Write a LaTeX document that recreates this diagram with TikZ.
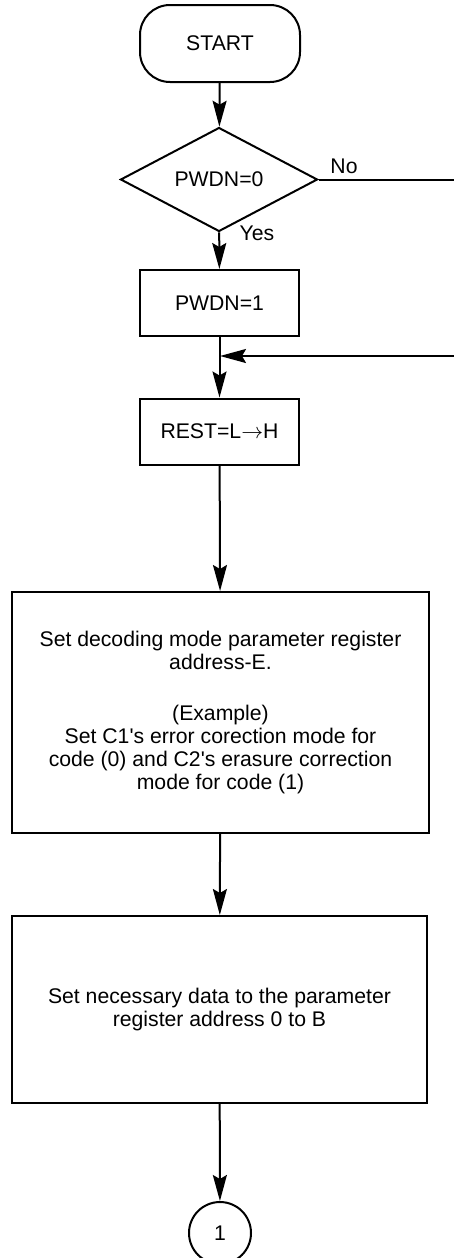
\documentclass[tikz,border=0pt]{standalone}
\usepackage{fontspec}
\setmainfont{Liberation Sans}
\usetikzlibrary{shapes.geometric,arrows.meta}

\tikzset{
  flowbox/.style={draw, line width=1pt, inner sep=0pt, align=center, minimum width=79.5pt, minimum height=33pt},
  wire/.style={line width=1pt},
  arr/.style={wire, -{Stealth[length=13pt,width=7pt,inset=2pt]}},
}

\begin{document}
\begin{tikzpicture}[x=0.5pt,y=0.5pt,yscale=-1,font=\fontsize{10.6}{11.5}\selectfont]
      \useasboundingbox (0,0) rectangle (454,1258);

      %Terminal
      \node [flowbox, rounded corners=15pt, minimum width=80pt, minimum height=38.5pt] (start) at (220,43.5) {START};
      %Decision
      \node [draw, line width=1pt, diamond, inner sep=0pt, minimum width=98.5pt, minimum height=42.5pt] (pwdn0) at (219,179.5) {PWDN=0};
      %Process boxes
      \node [flowbox] (pwdn1) at (219.5,303) {PWDN=1};
      \node [flowbox] (rest) at (219.5,431.5) {REST=L$\rightarrow$H};
      \node [flowbox, minimum width=208.5pt, minimum height=120.5pt] (mode) at (220.5,712.5)
        {Set decoding mode parameter register\\ address-E.\\[14pt] (Example)\\ Set C1\textquotesingle s error corection mode for\\ code (0) and C2\textquotesingle s erasure correction\\ mode for code (1)};
      \node [flowbox, minimum width=207.5pt, minimum height=93.5pt] (data) at (219.5,1009.5)
        {Set necessary data to the parameter\\ register address 0 to B};
      %Connector
      \node [draw, line width=1pt, circle, inner sep=0pt, minimum size=31pt] (conn) at (220,1233) {1};

      %Free ends of the loop
      \coordinate (noR) at (454,179.5);
      \coordinate (backR) at (454,356);
      \coordinate (join) at (220,356);

      %Straight Lines
      \draw [arr] (start) -- (pwdn0);
      \draw [arr] (pwdn0) -- (pwdn1);
      \draw [wire] (pwdn0.east) -- (noR);
      \draw [arr] (pwdn1) -- (rest);
      \draw [arr] (backR) -- (join);
      \draw [arr] (rest) -- (mode);
      \draw [arr] (mode) -- (data);
      \draw [arr] (data) -- (conn);

      % Text Node
      \node (no) at (344,166) {No};
      % Text Node
      \node (yes) at (257,233) {Yes};
\end{tikzpicture}
\end{document}
